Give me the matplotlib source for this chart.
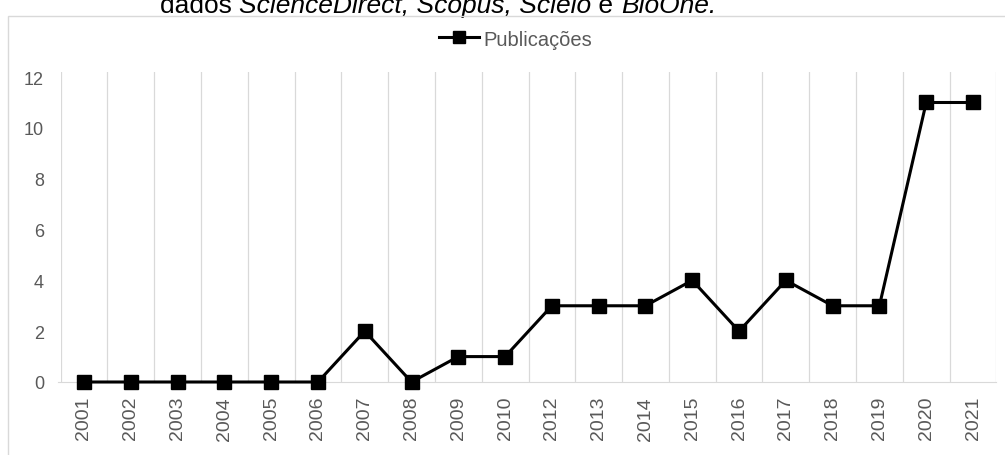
import matplotlib.pyplot as plt
from matplotlib.patches import Rectangle

plt.rcParams['font.family'] = ['Liberation Sans', 'DejaVu Sans']

anos = ['2001', '2002', '2003', '2004', '2005', '2006', '2007', '2008', '2009', '2010',
        '2012', '2013', '2014', '2015', '2016', '2017', '2018', '2019', '2020', '2021']
publicacoes = [0, 0, 0, 0, 0, 0, 2, 0, 1, 1, 3, 3, 3, 4, 2, 4, 3, 3, 11, 11]
yticks = [0, 2, 4, 6, 8, 10, 12]

cinza = '#595959'
grade = '#d9d9d9'

fig = plt.figure(figsize=(10.05, 4.56), dpi=100)

# moldura do gráfico
fig.patches.append(Rectangle((8 / 1005, -0.1), 1.1, 1.1 - 17 / 456,
                             transform=fig.transFigure, fill=False,
                             edgecolor=grade, linewidth=1.0))

ax = fig.add_axes([60.6 / 1005, (456 - 383) / 456, (996.4 - 60.6) / 1005, (383 - 73) / 456])

x = list(range(len(anos)))
ax.plot(x, publicacoes, color='black', linewidth=2.2, marker='s', markersize=10,
        label='Publicações', zorder=3, clip_on=False)

ax.set_xlim(-0.5, len(anos) - 0.5)
ax.set_ylim(0, 12.2)
ax.set_yticks(yticks)
ax.set_xticks(x)
ax.set_xticklabels(anos, rotation=90)

# linhas verticais entre categorias
for b in range(len(anos) + 1):
    ax.axvline(b - 0.5, color=grade, linewidth=0.9, zorder=0)

for s in ['top', 'right', 'left']:
    ax.spines[s].set_visible(False)
ax.spines['bottom'].set_color(grade)
ax.spines['bottom'].set_bounds(-0.55, len(anos) - 0.5)

ax.tick_params(axis='both', length=0, colors=cinza)
ax.tick_params(axis='y', pad=12, labelsize=13)
ax.tick_params(axis='x', pad=10, labelsize=14)

ax.legend(loc='center', bbox_to_anchor=(0.5 + 13 / 1005, (456 - 40) / 456),
          bbox_transform=fig.transFigure, frameon=False, fontsize=14.5,
          labelcolor=cinza, handlelength=2.0, handletextpad=0.2, markerscale=0.9)

# título (cortado no topo), em partes normal/itálico encadeadas
partes = [('dados ', 'normal'), ('ScienceDirect, Scopus, Scielo', 'italic'),
          (' e ', 'normal'), ('BioOne.', 'italic')]
prev = fig.text(160 / 1005, 1 - 18 / 456, partes[0][0], ha='left', va='bottom',
                fontsize=19, style=partes[0][1], color='black')
for texto, estilo in partes[1:]:
    prev = ax.annotate(texto, xy=(1, 0), xycoords=prev, ha='left', va='bottom',
                       fontsize=19, style=estilo, color='black',
                       annotation_clip=False)

fig.savefig('out.png', dpi=100)
